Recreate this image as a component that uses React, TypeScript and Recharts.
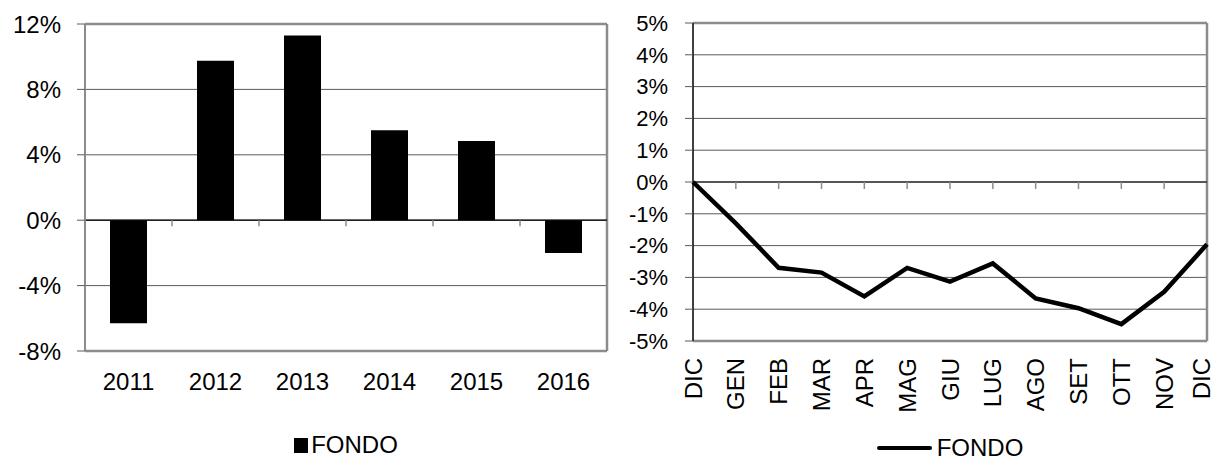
import {
  Bar,
  BarChart,
  CartesianGrid,
  Legend,
  Line,
  LineChart,
  ReferenceLine,
  XAxis,
  YAxis,
} from 'recharts';

const years = ['2011', '2012', '2013', '2014', '2015', '2016'];
const yearlyFondo = [-6.3, 9.75, 11.3, 5.5, 4.85, -2.0];
const yearTicks = [-8, -4, 0, 4, 8, 12];

const months = ['DIC', 'GEN', 'FEB', 'MAR', 'APR', 'MAG', 'GIU', 'LUG', 'AGO', 'SET', 'OTT', 'NOV', 'DIC'];
const ytdFondo = [0, -1.3, -2.7, -2.85, -3.6, -2.7, -3.13, -2.56, -3.66, -3.97, -4.47, -3.45, -1.96];
const monthTicks = [-5, -4, -3, -2, -1, 0, 1, 2, 3, 4, 5];

const seriesName = 'FONDO';

const yearlyData = years.map((year, i) => ({ year, fondo: yearlyFondo[i] }));
const monthlyData = months.map((month, i) => ({ idx: i, month, fondo: ytdFondo[i] }));

const FONT = '"Liberation Sans", Arial, sans-serif';
const BORDER = '#8c8c8c';
const GRID = '#5a5a5a';

const pct = (v: number) => `${v}%`;

function MonthTick({ x, y, payload }: { x?: number; y?: number; payload?: { value: number } }) {
  const i = payload?.value ?? 0;
  // last label sits a little inside the right border, as in the original
  const shift = i === months.length - 1 ? -6 : 0;
  return (
    <g transform={`translate(${(x ?? 0) + shift},${y})`}>
      <text
        transform="rotate(-90)"
        textAnchor="end"
        dy="0.36em"
        fontSize={24}
        fontFamily={FONT}
        fill="#000"
      >
        {months[i]}
      </text>
    </g>
  );
}

function BarLegend() {
  return (
    <div
      style={{
        display: 'flex',
        justifyContent: 'center',
        alignItems: 'center',
        fontFamily: FONT,
        fontSize: 24,
        color: '#000',
      }}
    >
      <span style={{ width: 14, height: 15, background: '#000', marginRight: 3 }} />
      <span>{seriesName}</span>
    </div>
  );
}

function LineLegend() {
  return (
    <div
      style={{
        display: 'flex',
        justifyContent: 'center',
        alignItems: 'center',
        fontFamily: FONT,
        fontSize: 24,
        color: '#000',
      }}
    >
      <span style={{ width: 55, height: 4, background: '#000', borderRadius: 2, marginRight: 5 }} />
      <span>{seriesName}</span>
    </div>
  );
}

export default function App() {
  const tickStyle = { fontSize: 24, fill: '#000', fontFamily: FONT };
  return (
    <div style={{ position: 'absolute', left: 0, top: 0, width: 1218, height: 461, background: '#fff' }}>
      <div style={{ position: 'absolute', left: 0, top: 0 }}>
        <BarChart
          width={612}
          height={461}
          data={yearlyData}
          margin={{ top: 24, right: 5, left: 0, bottom: 60 }}
        >
          <CartesianGrid vertical={false} stroke={GRID} />
          <XAxis
            dataKey="year"
            axisLine={false}
            tickLine={false}
            height={50}
            tickMargin={16}
            tick={tickStyle}
            interval={0}
          />
          <YAxis
            domain={[-8, 12]}
            ticks={yearTicks}
            tickFormatter={pct}
            width={85}
            tickSize={8}
            tickMargin={16}
            tick={tickStyle}
            axisLine={{ stroke: BORDER, strokeWidth: 2 }}
            tickLine={{ stroke: GRID }}
          />
          <ReferenceLine y={12} stroke={BORDER} strokeWidth={2.5} />
          <ReferenceLine y={-8} stroke={BORDER} strokeWidth={2.5} />
          <ReferenceLine x="2016" position="end" stroke={BORDER} strokeWidth={2.5} />
          <Bar dataKey="fondo" name={seriesName} fill="#000" barSize={37} isAnimationActive={false} />
          <ReferenceLine y={0} stroke="#000" strokeWidth={1.2} />
          {years.slice(1).map((yr) => (
            <ReferenceLine
              key={yr}
              position="start"
              segment={[
                { x: yr, y: 0 },
                { x: yr, y: -0.37 },
              ]}
              stroke={BORDER}
              strokeWidth={1.5}
            />
          ))}
          <Legend
            verticalAlign="middle"
            align="center"
            layout="horizontal"
            content={<BarLegend />}
            wrapperStyle={{ top: 431, left: 85, width: 522 }}
          />
        </BarChart>
      </div>

      <div style={{ position: 'absolute', left: 612, top: 0 }}>
        <LineChart
          width={606}
          height={461}
          data={monthlyData}
          margin={{ top: 23, right: 11, left: 0, bottom: 40 }}
        >
          <CartesianGrid vertical={false} stroke={GRID} />
          <XAxis
            dataKey="idx"
            type="category"
            axisLine={false}
            tickLine={false}
            height={80}
            tickMargin={11}
            interval={0}
            tick={<MonthTick />}
          />
          <YAxis
            domain={[-5, 5]}
            ticks={monthTicks}
            tickFormatter={pct}
            width={81}
            tickSize={8}
            tickMargin={17}
            tick={{ fontSize: 22, fill: '#000', fontFamily: FONT }}
            axisLine={{ stroke: '#000', strokeWidth: 1.5 }}
            tickLine={{ stroke: GRID }}
          />
          <ReferenceLine y={5} stroke={BORDER} strokeWidth={2.5} />
          <ReferenceLine y={-5} stroke={BORDER} strokeWidth={2.5} />
          <ReferenceLine x={12} stroke={BORDER} strokeWidth={2.5} />
          <ReferenceLine y={0} stroke="#000" strokeWidth={1.2} />
          {monthlyData.slice(1, 12).map((d) => (
            <ReferenceLine
              key={d.idx}
              segment={[
                { x: d.idx, y: 0 },
                { x: d.idx, y: -0.22 },
              ]}
              stroke={BORDER}
              strokeWidth={1.5}
            />
          ))}
          <Line
            dataKey="fondo"
            name={seriesName}
            stroke="#000"
            strokeWidth={4.5}
            dot={false}
            type="linear"
            isAnimationActive={false}
          />
          <Legend
            verticalAlign="middle"
            align="center"
            layout="horizontal"
            content={<LineLegend />}
            wrapperStyle={{ top: 434, left: 81, width: 514 }}
          />
        </LineChart>
      </div>
    </div>
  );
}
